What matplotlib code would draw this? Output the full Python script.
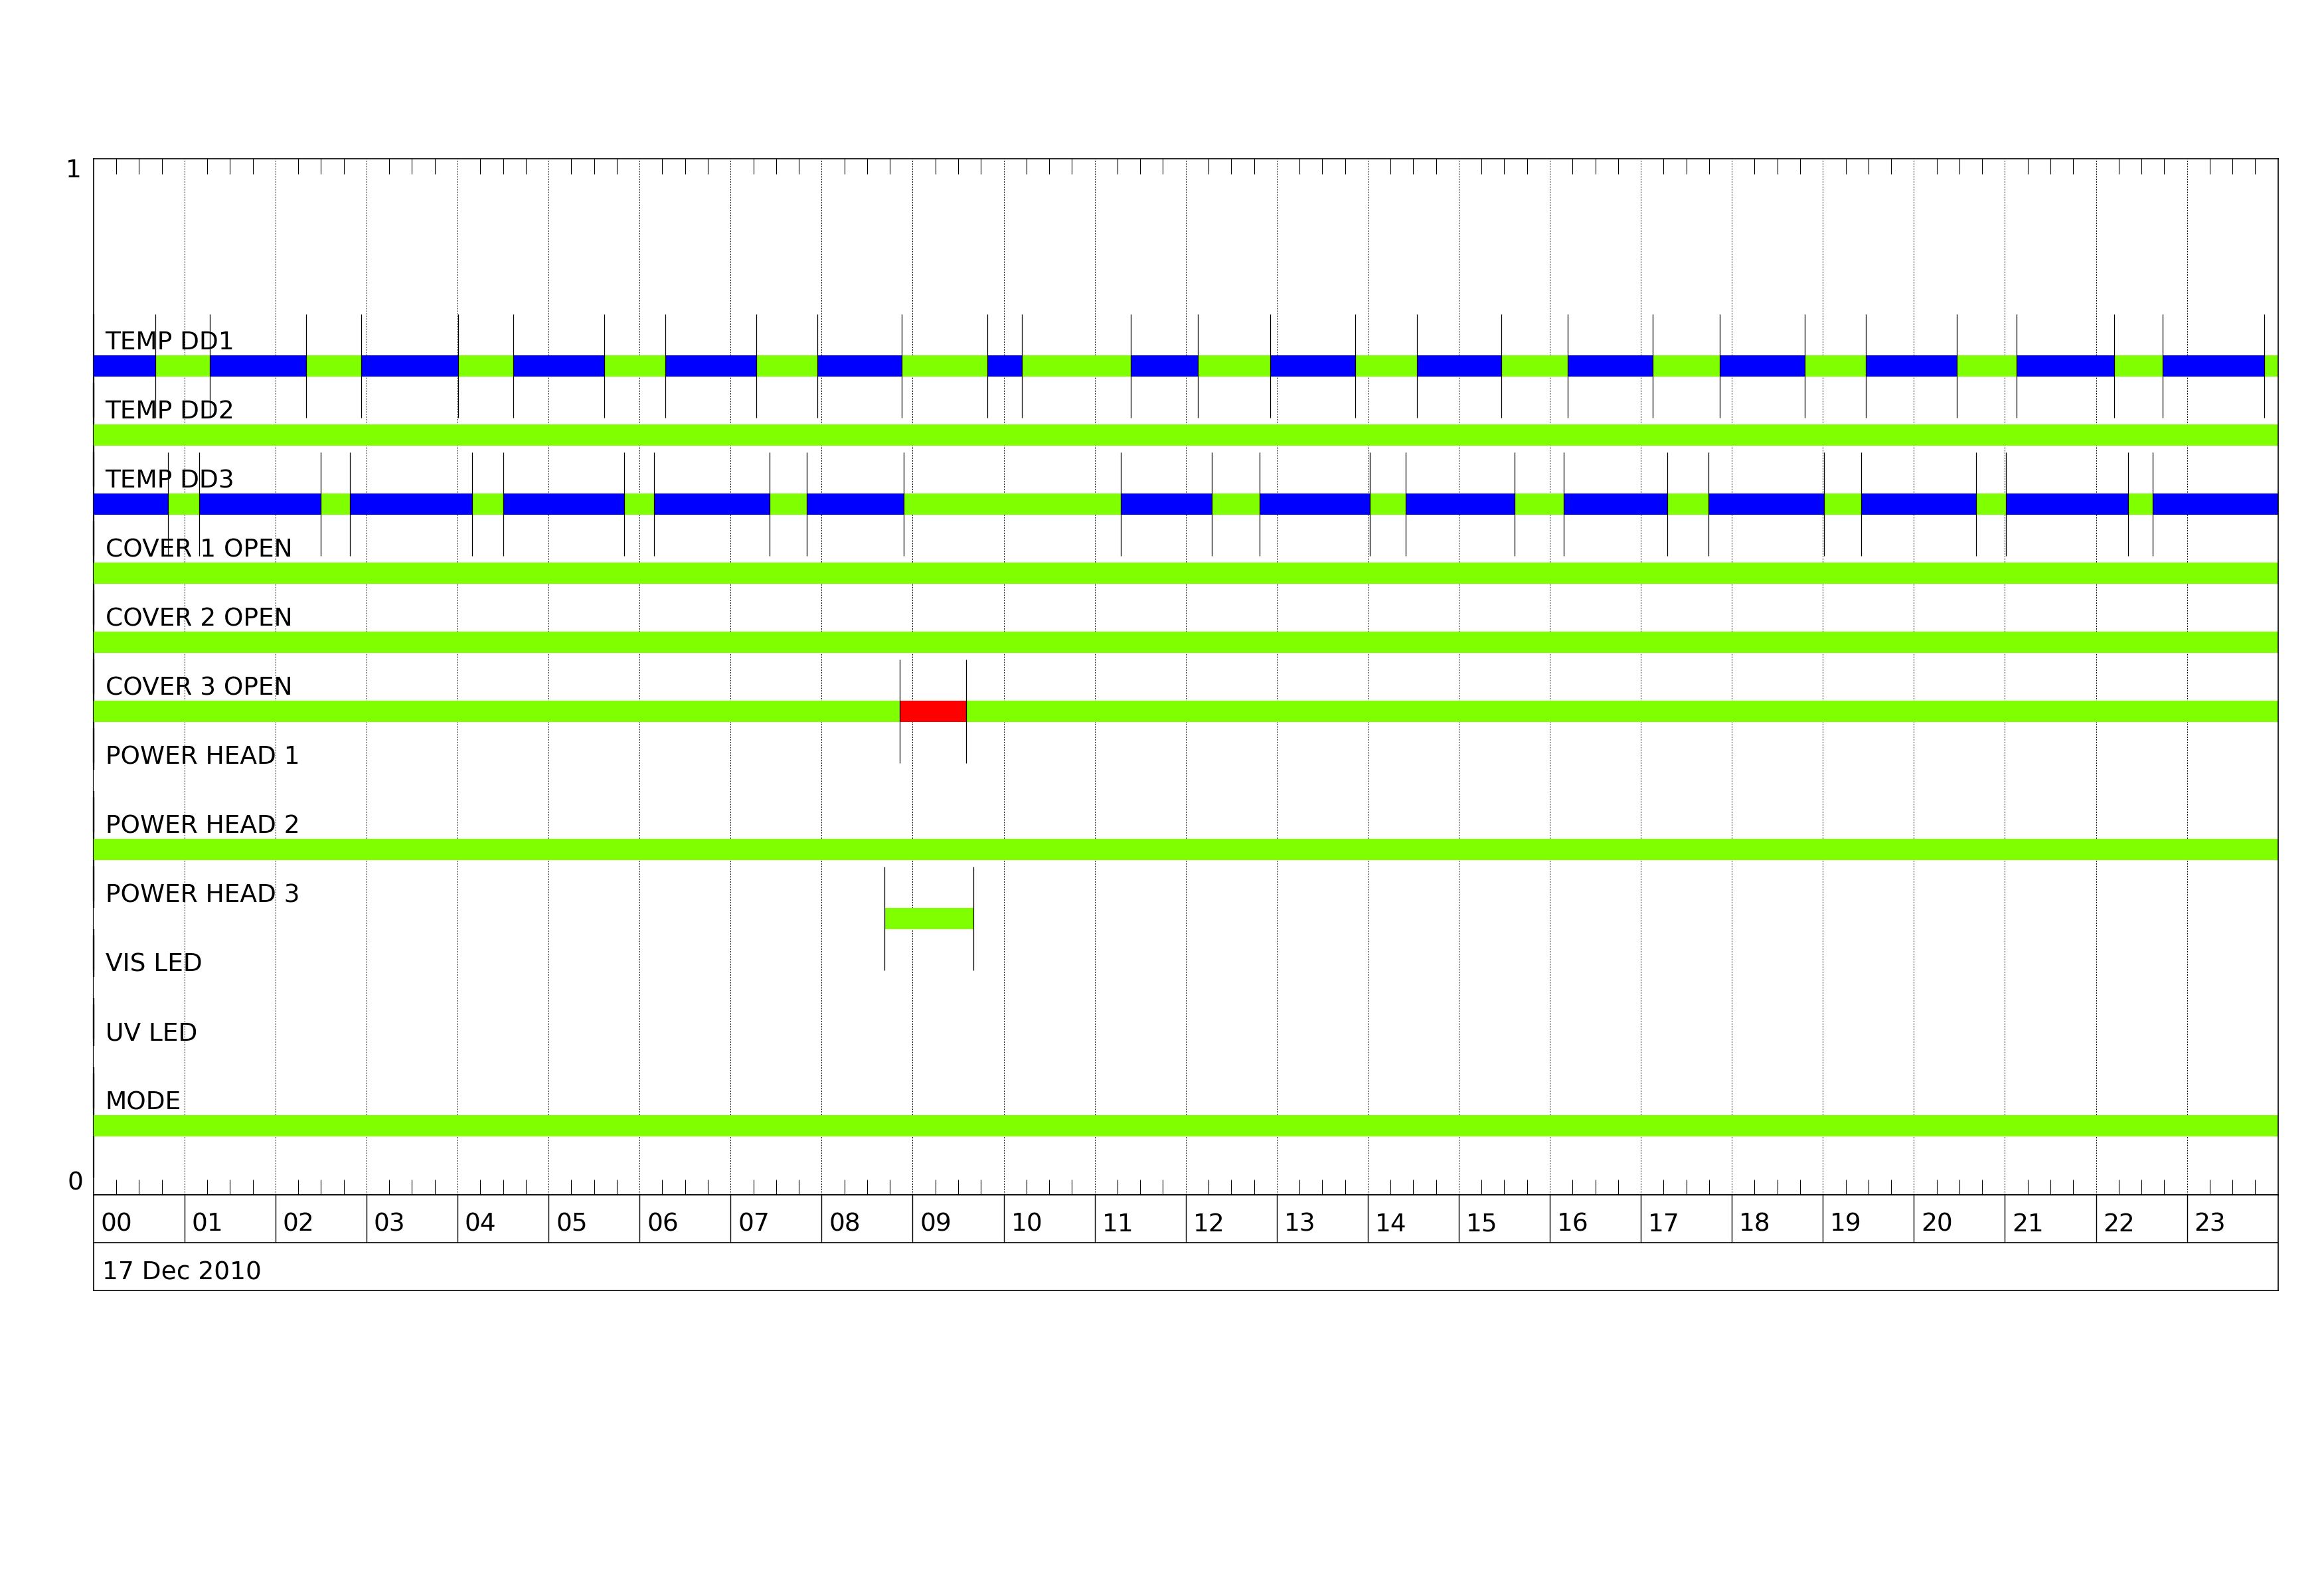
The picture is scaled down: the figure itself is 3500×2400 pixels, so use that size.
import matplotlib
matplotlib.use("Agg")
import matplotlib.pyplot as plt
import numpy as np

plt.rcParams["font.family"] = ["DejaVu Sans"]

# Row labels, top to bottom
labels = ["TEMP DD1", "TEMP DD2", "TEMP DD3", "COVER 1 OPEN", "COVER 2 OPEN",
          "COVER 3 OPEN", "POWER HEAD 1", "POWER HEAD 2", "POWER HEAD 3",
          "VIS LED", "UV LED", "MODE"]

# State change times (hours) and the state in each interval
dd1_edges = [0, 0.68, 1.28, 2.34, 2.94, 4.01, 4.61, 5.61, 6.28, 7.28, 7.95, 8.88,
             9.82, 10.20, 11.40, 12.13, 12.93, 13.86, 14.54, 15.47, 16.20, 17.13,
             17.87, 18.80, 19.47, 20.47, 21.13, 22.20, 22.73, 23.85, 24]
dd1_states = ["B", "G", "B", "G", "B", "G", "B", "G", "B", "G", "B", "G", "B", "G", "B",
              "G", "B", "G", "B", "G", "B", "G", "B", "G", "B", "G", "B", "G", "B", "G"]

dd3_edges = [0, 0.82, 1.16, 2.50, 2.82, 4.16, 4.50, 5.83, 6.16, 7.43, 7.84, 8.90,
             11.29, 12.29, 12.81, 14.02, 14.42, 15.61, 16.15, 17.29, 17.74, 19.01,
             19.42, 20.68, 21.01, 22.35, 22.62, 24]
dd3_states = ["B", "G", "B", "G", "B", "G", "B", "G", "B", "G", "B", "G", "B", "G",
              "B", "G", "B", "G", "B", "G", "B", "G", "B", "G", "B", "G", "B"]

cover3_edges = [0, 8.86, 9.59, 24]
cover3_states = ["G", "R", "G"]

ph3_edges = [0, 8.69, 9.67, 24]
ph3_states = ["W", "G", "W"]

on_edges = [0, 24]
on_states = ["G"]
off_edges = [0, 24]
off_states = ["W"]

rows = [(dd1_edges, dd1_states), (on_edges, on_states), (dd3_edges, dd3_states),
        (on_edges, on_states), (on_edges, on_states), (cover3_edges, cover3_states),
        (off_edges, off_states), (on_edges, on_states), (ph3_edges, ph3_states),
        (off_edges, off_states), (off_edges, off_states), (on_edges, on_states)]

hour_labels = ["%02d" % h for h in range(24)]
date_label = "17 Dec 2010"

colors = {"B": "#0000FF", "G": "#7FFF00", "R": "#FF0000", "W": "#FFFFFF"}

fig = plt.figure(figsize=(35, 24), dpi=100)
ax = fig.add_axes([0.0402, 0.2504, 0.94, 0.65])
ax.set_xlim(0, 24)
ax.set_ylim(0, 1)

bar_h = 0.021
half_line = 0.05
n = len(labels)
for i, (name, (edges, states)) in enumerate(zip(labels, rows)):
    yc = (n - i) / 15
    # left edge marker
    ax.vlines(0, yc - half_line, yc + half_line, colors="black", lw=1.6,
              zorder=1, clip_on=False)
    for k, st in enumerate(states):
        x0, x1 = edges[k], edges[k + 1]
        ax.barh(yc, x1 - x0, left=x0, height=bar_h, color=colors[st],
                linewidth=0, zorder=2 if st == "W" else 3)
    for x in edges[1:-1]:
        ax.vlines(x, yc - half_line, yc + half_line, colors="black", lw=0.9, zorder=4)
    ax.text(0.13, yc + 0.016, name, fontsize=27, ha="left", va="baseline", zorder=6)

# hourly dotted grid
ax.vlines(np.arange(1, 24), 0, 1, colors="black", lw=0.7,
          linestyles=(0, (2, 2)), zorder=2.5)

quarters = [h + q for h in range(24) for q in (0.25, 0.5, 0.75)]
ax.set_xticks(quarters)
ax.set_yticks([])
ax.tick_params(axis="x", direction="in", top=True, bottom=True, length=16.5,
               width=0.8, labelbottom=False)
for side in ["top", "bottom", "right", "left"]:
    ax.spines[side].set_linewidth(1.2)
    ax.spines[side].set_zorder(5)
ax.spines["left"].set_zorder(1)

ax.annotate("1", xy=(0, 1), xycoords="axes fraction", xytext=(-13, 0),
            textcoords="offset points", ha="right", va="top", fontsize=27)
ax.annotate("0", xy=(0, 0), xycoords="axes fraction", xytext=(-11, 0),
            textcoords="offset points", ha="right", va="bottom", fontsize=27)

# hour / date label boxes
lab = fig.add_axes([0.0402, 0.19042, 0.94, 0.06])
lab.set_xlim(0, 24)
lab.set_ylim(0, 2)
lab.set_xticks([])
lab.set_yticks([])
for s in lab.spines.values():
    s.set_linewidth(1.2)
lab.axhline(1, color="black", lw=1.2)
lab.vlines(np.arange(1, 24), 1, 2, colors="black", lw=1.0)
for h, t in enumerate(hour_labels):
    lab.text(h + 0.08, 1.38, t, fontsize=27, ha="left", va="center")
lab.text(0.1, 0.37, date_label, fontsize=27, ha="left", va="center")

fig.savefig("out.png", dpi=100, facecolor="white")
